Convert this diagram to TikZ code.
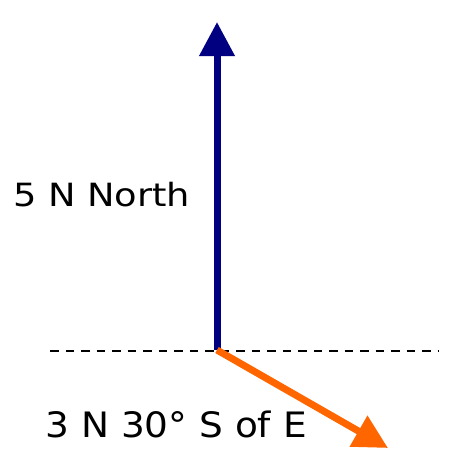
\documentclass[tikz,border=0pt]{standalone}
\usepackage{fontspec}
\setmainfont{DejaVu Sans}
\usetikzlibrary{arrows.meta}
\definecolor{vnavy}{RGB}{0,0,128}
\definecolor{vorange}{RGB}{255,102,0}
\begin{document}
\begin{tikzpicture}[x=1pt,y=1pt,
  vec/.style={line width=7pt,-{Triangle[length=34pt,width=34pt]}},
  refline/.style={line width=2.3pt,dash pattern=on 8.5pt off 7pt},
  lbl/.style={anchor=base west,inner sep=0pt,outer sep=0pt}]
\useasboundingbox (0,0) rectangle (470,459);
\coordinate (O) at (217,109);
\coordinate (Ntip) at (217,437);
\coordinate (Etip) at (388,11);
\coordinate (dl) at (50,108);
\coordinate (dr) at (438,108);
\draw[refline] (dl) -- (dr);
\draw[vec,vnavy] (O) -- (Ntip);
\draw[vec,vorange] (O) -- (Etip);
\node[lbl] (north) at (13,252.3) {\scalebox{1.15}[1]{\fontsize{32}{36}\selectfont 5 N North}};
\node[lbl] (east) at (45.5,21.7) {\scalebox{1.07}[1]{\fontsize{35}{40}\selectfont 3 N 30° S of E}};
\end{tikzpicture}
\end{document}
